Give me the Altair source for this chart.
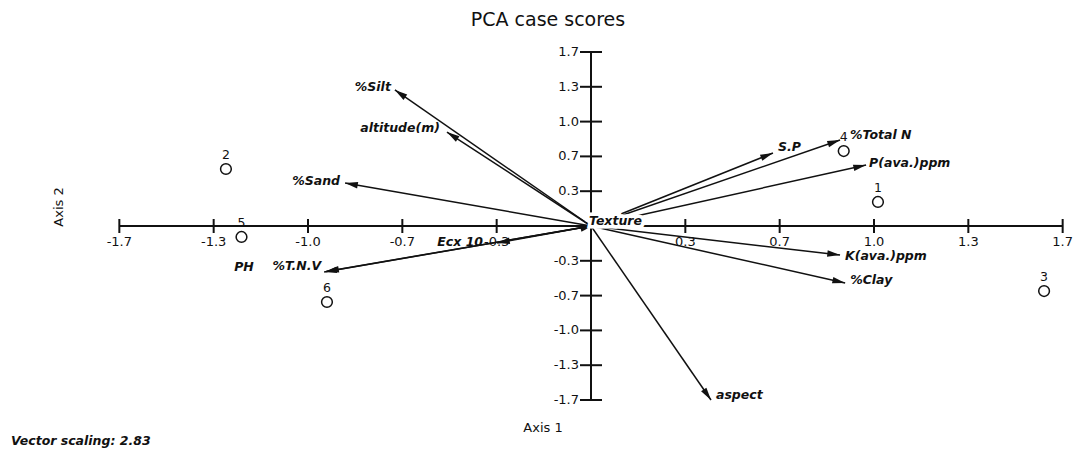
import math
import altair as alt
import pandas as pd

# ---------------- data ----------------
vec_names = ["%Silt", "altitude(m)", "%Sand", "S.P", "%Total N", "P(ava.)ppm",
             "K(ava.)ppm", "%Clay", "aspect", "PH", "%T.N.V", "Ecx 10", "Texture"]
vec_axis1 = [-0.693, -0.509, -0.869, 0.643, 0.880, 0.972,
             0.880, 0.898, 0.424, -0.943, -0.936, -0.332, 0.007]
vec_axis2 = [1.303, 0.900, 0.412, 0.699, 0.824, 0.584,
             -0.278, -0.546, -1.667, -0.441, -0.435, -0.163, 0.005]

case_ids = ["1", "2", "3", "4", "5", "6"]
case_axis1 = [1.014, -1.290, 1.601, 0.893, -1.235, -0.933]
case_axis2 = [0.230, 0.546, -0.623, 0.718, -0.105, -0.728]

tick_values = [-5 / 3, -4 / 3, -1.0, -2 / 3, -1 / 3, 1 / 3, 2 / 3, 1.0, 4 / 3, 5 / 3]
tick_labels = ["-1.7", "-1.3", "-1.0", "-0.7", "-0.3", "0.3", "0.7", "1.0", "1.3", "1.7"]

chart_title = "PCA case scores"
x_title = "Axis 1"
y_title = "Axis 2"
footnote = "Vector scaling: 2.83"

# ---------------- layout ----------------
W, H = 1065, 440
OX, OY = 583, 218          # pixel position of the origin inside the plot
KX, KY = 283.0, 104.4      # pixels per unit
xdom = [-OX / KX, (W - OX) / KX]
ydom = [-(H - OY) / KY, OY / KY]
xs = alt.Scale(domain=xdom, nice=False, zero=False)
ys = alt.Scale(domain=ydom, nice=False, zero=False)

FONT = "DejaVu Sans"
INK = "#111111"

def X(f):
    return alt.X(f, type="quantitative", scale=xs, axis=None)

def Y(f):
    return alt.Y(f, type="quantitative", scale=ys, axis=None)

# label placement (style): align, dx, dy
label_style = {
    "%Silt": ("right", -4, -3),
    "altitude(m)": ("right", -7, -4),
    "%Sand": ("right", -5, -2),
    "S.P": ("left", 5, -6),
    "%Total N": ("left", 10, -5),
    "P(ava.)ppm": ("left", 3, -2),
    "K(ava.)ppm": ("left", 5, 1),
    "%Clay": ("left", 5, -3),
    "aspect": ("left", 5, -5),
    "PH": ("left", -90, -5),
    "%T.N.V": ("right", -5, -5),
    "Ecx 10": ("right", -14, -1),
    "Texture": ("left", -4, -4),
}

# ---------------- tables ----------------
vec = pd.DataFrame({"name": vec_names, "a1": vec_axis1, "a2": vec_axis2})
vec["o"] = 0.0
vec["ang"] = [
    (math.degrees(math.atan2(a * KX, b * KY)) + 360.0) % 360.0
    for a, b in zip(vec_axis1, vec_axis2)
]
cases = pd.DataFrame({"id": case_ids, "a1": case_axis1, "a2": case_axis2})
ticks = pd.DataFrame({"v": tick_values, "label": tick_labels})
ticks["z"] = 0.0
axes = pd.DataFrame({
    "x1": [min(tick_values), 0.0], "x2": [max(tick_values), 0.0],
    "y1": [0.0, min(tick_values)], "y2": [0.0, max(tick_values)],
})
texts = pd.DataFrame({"t": [chart_title, x_title, y_title, footnote]})

# ---------------- layers ----------------
axis_lines = alt.Chart(axes).mark_rule(color=INK, strokeWidth=2).encode(
    x=X("x1"), y=Y("y1"), x2="x2", y2="y2")

xticks = alt.Chart(ticks).mark_tick(orient="vertical", size=14, thickness=2, color=INK, opacity=1).encode(
    x=X("v"), y=Y("z"))
yticks = alt.Chart(ticks).mark_tick(orient="horizontal", size=22, thickness=2, color=INK, opacity=1).encode(
    x=X("z"), y=Y("v"))
xlabels = alt.Chart(ticks).mark_text(dy=16, align="center", baseline="middle",
                                     font=FONT, fontSize=13, color=INK).encode(
    x=X("v"), y=Y("z"), text="label:N")
ylabels = alt.Chart(ticks).mark_text(dx=-12, align="right", baseline="middle",
                                     font=FONT, fontSize=13, color=INK).encode(
    x=X("z"), y=Y("v"), text="label:N")

vec_lines = alt.Chart(vec).mark_rule(color=INK, strokeWidth=1.5).encode(
    x=X("o"), y=Y("o"), x2="a1", y2="a2")

ARROW = "M0,0L-0.38,1.5L0.38,1.5Z"
heads = alt.Chart(vec).mark_point(shape=ARROW, filled=True, size=290, color=INK,
                                   opacity=1, strokeWidth=0).encode(
    x=X("a1"), y=Y("a2"), angle=alt.Angle("ang:Q", scale=None))

label_layers = []
for nm, (al, ddx, ddy) in label_style.items():
    if nm == "Texture":
        label_layers.append(
            alt.Chart(vec).transform_filter(alt.datum.name == nm).mark_text(
                align=al, dx=ddx, dy=ddy, baseline="middle", font=FONT, fontSize=12.5,
                fontStyle="italic", fontWeight="bold", color="white", stroke="white",
                strokeWidth=7).encode(
                x=X("a1"), y=Y("a2"), text="name:N"))
    label_layers.append(
        alt.Chart(vec).transform_filter(alt.datum.name == nm).mark_text(
            align=al, dx=ddx, dy=ddy, baseline="middle", font=FONT, fontSize=12.5,
            fontStyle="italic", fontWeight="bold", color=INK).encode(
            x=X("a1"), y=Y("a2"), text="name:N"))

circles = alt.Chart(cases).mark_point(shape="circle", filled=False, size=115,
                                      strokeWidth=1.5, color=INK, opacity=1).encode(
    x=X("a1"), y=Y("a2"))
case_labels = alt.Chart(cases).mark_text(dy=-14, align="center", baseline="middle",
                                         font=FONT, fontSize=12.5, color=INK).encode(
    x=X("a1"), y=Y("a2"), text="id:N")

title_txt = alt.Chart(texts).transform_filter(alt.datum.t == chart_title).mark_text(
    align="center", baseline="middle", font=FONT, fontSize=19, color=INK).encode(
    x=alt.value(540), y=alt.value(12), text="t:N")
xtitle_txt = alt.Chart(texts).transform_filter(alt.datum.t == x_title).mark_text(
    align="center", baseline="middle", font=FONT, fontSize=13, color=INK).encode(
    x=alt.value(535), y=alt.value(420), text="t:N")
ytitle_txt = alt.Chart(texts).transform_filter(alt.datum.t == y_title).mark_text(
    align="center", baseline="middle", font=FONT, fontSize=13, color=INK, angle=270).encode(
    x=alt.value(51), y=alt.value(199), text="t:N")
foot_txt = alt.Chart(texts).transform_filter(alt.datum.t == footnote).mark_text(
    align="left", baseline="bottom", font=FONT, fontSize=12.5, fontStyle="italic",
    fontWeight="bold", color=INK).encode(
    x=alt.value(3), y=alt.value(440), text="t:N")

chart = alt.layer(
    axis_lines, xticks, yticks, xlabels, ylabels,
    vec_lines, heads, *label_layers,
    circles, case_labels,
    title_txt, xtitle_txt, ytitle_txt, foot_txt,
).properties(
    width=W, height=H, padding=0,
    autosize=alt.AutoSizeParams(type="none"),
).configure_view(stroke=None)

chart.save("out.html", embed_options={"renderer": "svg", "actions": False})
